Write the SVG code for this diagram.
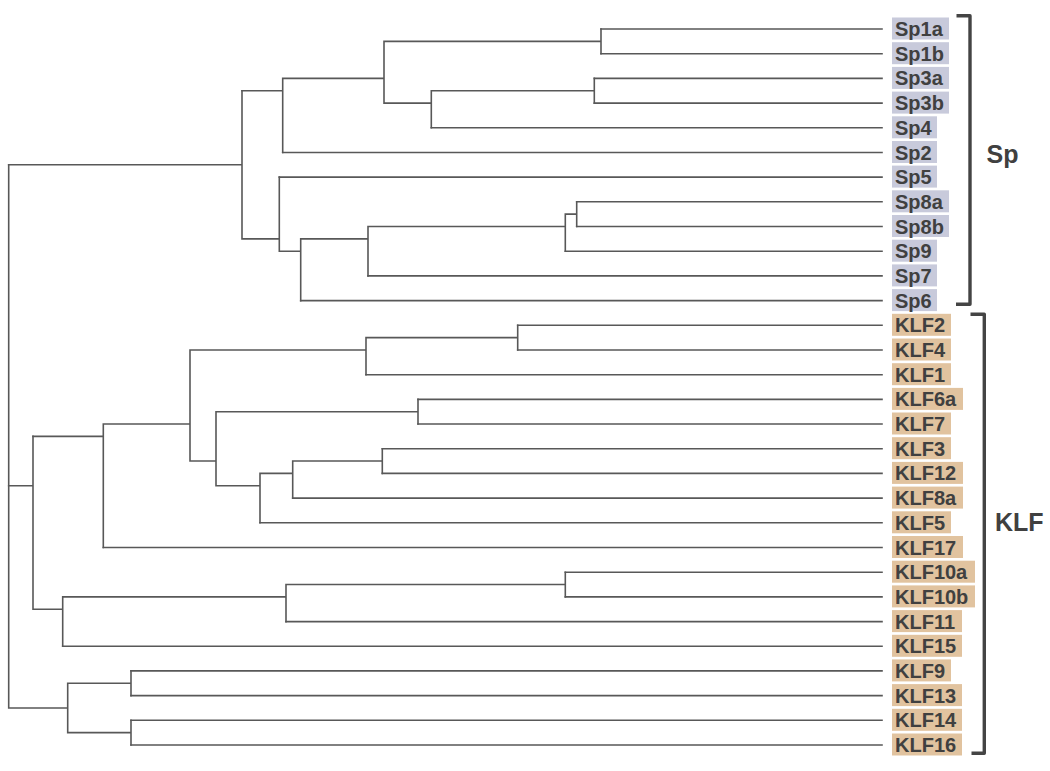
<svg xmlns="http://www.w3.org/2000/svg" width="1050" height="771" viewBox="0 0 1050 771">
<style>
.br{fill:none;stroke:#585858;stroke-width:1.6;stroke-linecap:square}
.lb{font-family:"Liberation Sans",Arial,sans-serif;font-weight:bold;font-size:20px;fill:#404040}
.sp{fill:#c8cadb}
.klf{fill:#e1c39f}
.bk{fill:none;stroke:#444;stroke-width:3.4;stroke-linejoin:round}
.grp{font-family:"Liberation Sans",Arial,sans-serif;font-weight:bold;font-size:25px;fill:#404040}
</style>
<rect width="1050" height="771" fill="#fff"/>
<g id="connectors" class="br">
<path d="M601 29 H882 M601 53.7 H882 M594.3 78.4 H882 M594.3 103.1 H882 M431.3 127.8 H882 M282.7 152.5 H882 M279.3 177.1 H882 M576.7 201.8 H882 M576.7 226.5 H882 M565.3 251.2 H882 M368 275.9 H882 M300.7 300.6 H882"/>
<path d="M517.7 325.3 H882 M517.7 350 H882 M366 374.7 H882 M418 399.4 H882 M418 424 H882 M382.3 448.7 H882 M382.3 473.4 H882 M292.7 498.1 H882 M260 522.8 H882 M103.3 547.5 H882 M565.3 572.2 H882 M565.3 596.9 H882 M286 621.6 H882 M62.7 646.3 H882 M131 670.9 H882 M131 695.6 H882 M131 720.3 H882 M131 745 H882"/>
<path d="M601 29 V53.7 M384 41.35 H601 M594.3 78.4 V103.1 M431.3 90.75 H594.3 M431.3 90.75 V127.8 M384 103.1 H431.3 M384 41.35 V103.1 M282.7 78.4 H384 M282.7 78.4 V152.5 M242 90.75 H282.7"/>
<path d="M576.7 201.8 V226.5 M565.3 214.15 H576.7 M565.3 214.15 V251.2 M368 226.5 H565.3 M368 226.5 V275.9 M300.7 238.85 H368 M300.7 238.85 V300.6 M279.3 251.2 H300.7 M279.3 177.1 V251.2 M242 238.85 H279.3 M242 90.75 V238.85 M8.7 164.8 H242"/>
<path d="M517.7 325.3 V350 M366 337.65 H517.7 M366 337.65 V374.7 M190 350 H366 M418 399.4 V424 M216 411.7 H418 M382.3 448.7 V473.4 M292.7 461.05 H382.3 M292.7 461.05 V498.1 M260 473.4 H292.7 M260 473.4 V522.8 M216 485.75 H260 M216 411.7 V485.75 M190 461.05 H216 M190 350 V461.05 M103.3 424 H190 M103.3 424 V547.5 M33 436.35 H103.3"/>
<path d="M565.3 572.2 V596.9 M286 584.55 H565.3 M286 584.55 V621.6 M62.7 596.9 H286 M62.7 596.9 V646.3 M33 609.25 H62.7 M33 436.35 V609.25 M8.7 485.8 H33"/>
<path d="M131 670.9 V695.6 M67.7 683.25 H131 M131 720.3 V745 M67.7 732.65 H131 M67.7 683.25 V732.65 M8.7 707.95 H67.7 M8.7 164.8 V707.95"/>
</g>
<g id="leaf-Sp1a"><rect class="sp" x="892" y="17.5" width="57" height="22"/><text class="lb" x="895" y="36">Sp1a</text></g>
<g id="leaf-Sp1b"><rect class="sp" x="892" y="42.2" width="57" height="22"/><text class="lb" x="895" y="60.7">Sp1b</text></g>
<g id="leaf-Sp3a"><rect class="sp" x="892" y="66.9" width="57" height="22"/><text class="lb" x="895" y="85.4">Sp3a</text></g>
<g id="leaf-Sp3b"><rect class="sp" x="892" y="91.6" width="57" height="22"/><text class="lb" x="895" y="110.1">Sp3b</text></g>
<g id="leaf-Sp4"><rect class="sp" x="892" y="116.3" width="45" height="22"/><text class="lb" x="895" y="134.8">Sp4</text></g>
<g id="leaf-Sp2"><rect class="sp" x="892" y="141" width="45" height="22"/><text class="lb" x="895" y="159.5">Sp2</text></g>
<g id="leaf-Sp5"><rect class="sp" x="892" y="165.6" width="45" height="22"/><text class="lb" x="895" y="184.1">Sp5</text></g>
<g id="leaf-Sp8a"><rect class="sp" x="892" y="190.3" width="57" height="22"/><text class="lb" x="895" y="208.8">Sp8a</text></g>
<g id="leaf-Sp8b"><rect class="sp" x="892" y="215" width="57" height="22"/><text class="lb" x="895" y="233.5">Sp8b</text></g>
<g id="leaf-Sp9"><rect class="sp" x="892" y="239.7" width="45" height="22"/><text class="lb" x="895" y="258.2">Sp9</text></g>
<g id="leaf-Sp7"><rect class="sp" x="892" y="264.4" width="45" height="22"/><text class="lb" x="895" y="282.9">Sp7</text></g>
<g id="leaf-Sp6"><rect class="sp" x="892" y="289.1" width="45" height="22"/><text class="lb" x="895" y="307.6">Sp6</text></g>
<g id="leaf-KLF2"><rect class="klf" x="892" y="313.8" width="59" height="22"/><text class="lb" x="895" y="332.3">KLF2</text></g>
<g id="leaf-KLF4"><rect class="klf" x="892" y="338.5" width="59" height="22"/><text class="lb" x="895" y="357">KLF4</text></g>
<g id="leaf-KLF1"><rect class="klf" x="892" y="363.2" width="59" height="22"/><text class="lb" x="895" y="381.7">KLF1</text></g>
<g id="leaf-KLF6a"><rect class="klf" x="892" y="387.9" width="71" height="22"/><text class="lb" x="895" y="406.4">KLF6a</text></g>
<g id="leaf-KLF7"><rect class="klf" x="892" y="412.5" width="59" height="22"/><text class="lb" x="895" y="431">KLF7</text></g>
<g id="leaf-KLF3"><rect class="klf" x="892" y="437.2" width="59" height="22"/><text class="lb" x="895" y="455.7">KLF3</text></g>
<g id="leaf-KLF12"><rect class="klf" x="892" y="461.9" width="71" height="22"/><text class="lb" x="895" y="480.4">KLF12</text></g>
<g id="leaf-KLF8a"><rect class="klf" x="892" y="486.6" width="71" height="22"/><text class="lb" x="895" y="505.1">KLF8a</text></g>
<g id="leaf-KLF5"><rect class="klf" x="892" y="511.3" width="59" height="22"/><text class="lb" x="895" y="529.8">KLF5</text></g>
<g id="leaf-KLF17"><rect class="klf" x="892" y="536" width="71" height="22"/><text class="lb" x="895" y="554.5">KLF17</text></g>
<g id="leaf-KLF10a"><rect class="klf" x="892" y="560.7" width="83" height="22"/><text class="lb" x="895" y="579.2">KLF10a</text></g>
<g id="leaf-KLF10b"><rect class="klf" x="892" y="585.4" width="83" height="22"/><text class="lb" x="895" y="603.9">KLF10b</text></g>
<g id="leaf-KLF11"><rect class="klf" x="892" y="610.1" width="70" height="22"/><text class="lb" x="895" y="628.6">KLF11</text></g>
<g id="leaf-KLF15"><rect class="klf" x="892" y="634.8" width="70" height="22"/><text class="lb" x="895" y="653.3">KLF15</text></g>
<g id="leaf-KLF9"><rect class="klf" x="892" y="659.4" width="59" height="22"/><text class="lb" x="895" y="677.9">KLF9</text></g>
<g id="leaf-KLF13"><rect class="klf" x="892" y="684.1" width="70" height="22"/><text class="lb" x="895" y="702.6">KLF13</text></g>
<g id="leaf-KLF14"><rect class="klf" x="892" y="708.8" width="70" height="22"/><text class="lb" x="895" y="727.3">KLF14</text></g>
<g id="leaf-KLF16"><rect class="klf" x="892" y="733.5" width="70" height="22"/><text class="lb" x="895" y="752">KLF16</text></g>
<g id="group-Sp"><path class="bk" d="M956.5 15.7 H970 V304.3 H956"/><text class="grp" x="986.5" y="163">Sp</text></g>
<g id="group-KLF"><path class="bk" d="M970.5 314.2 H984.3 V753.3 H971.5"/><text class="grp" x="995" y="530.7">KLF</text></g>
</svg>
